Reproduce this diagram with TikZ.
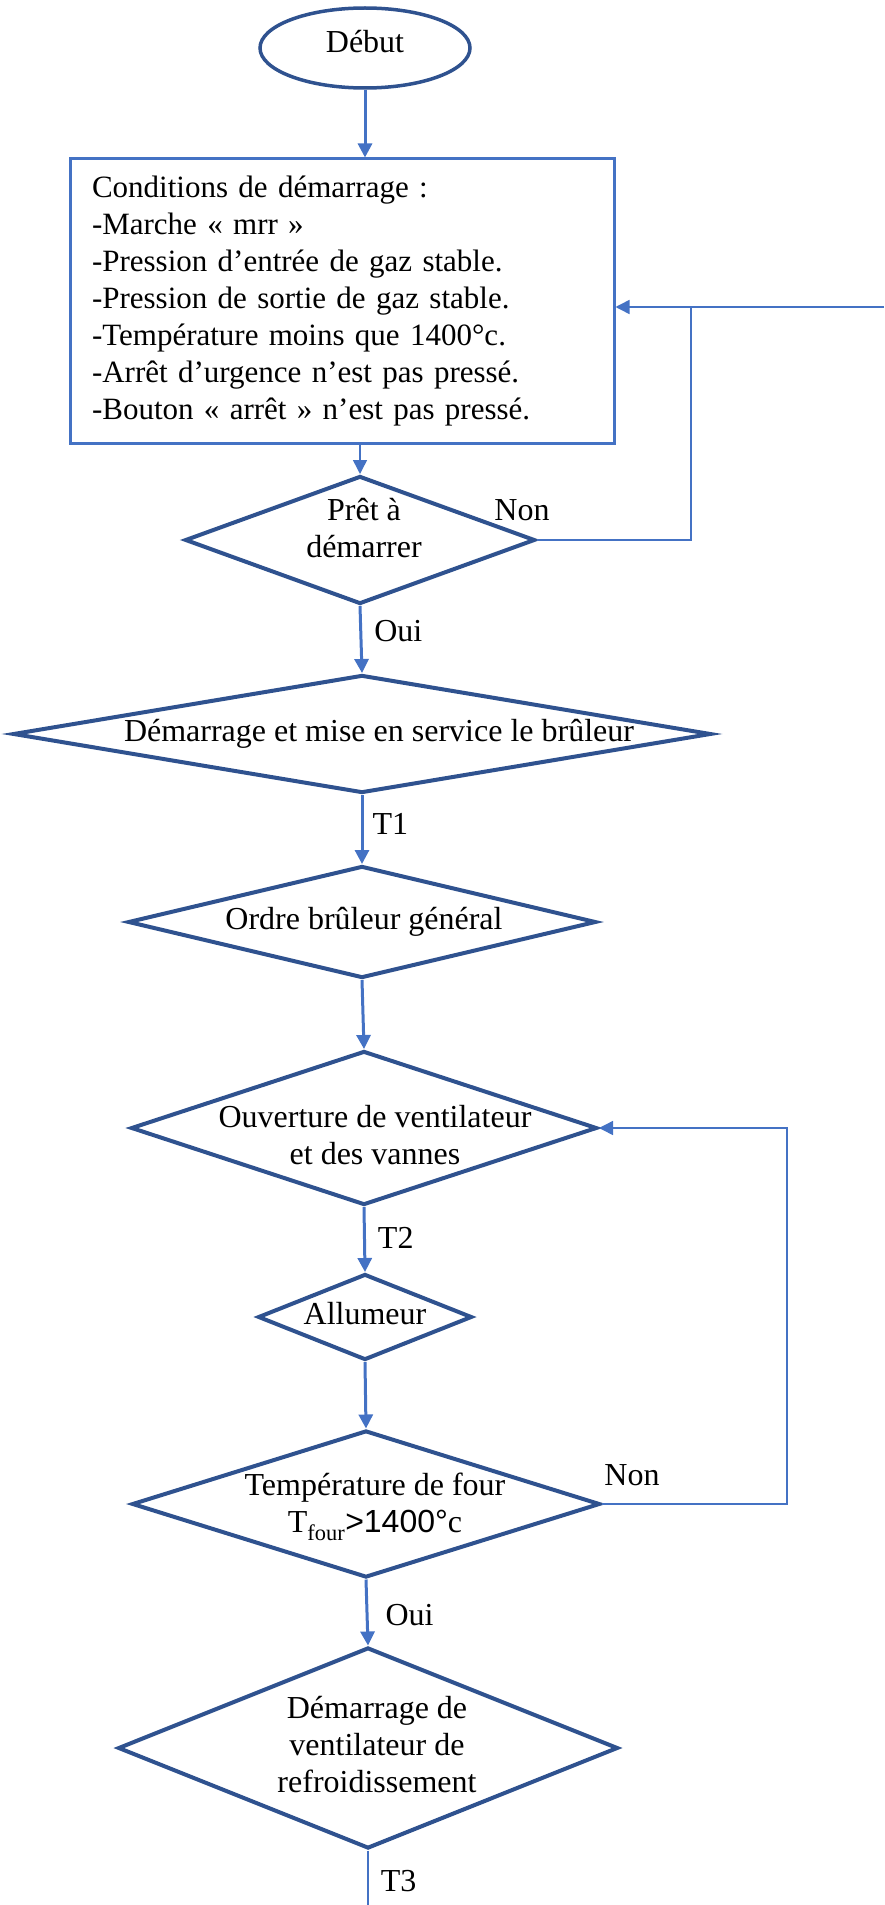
\documentclass[tikz,border=0pt]{standalone}
\usepackage{fontspec}
\setmainfont{Liberation Serif}
\newfontfamily\arialfont{Liberation Sans}
\usepackage{tikz}
\usetikzlibrary{shapes.geometric, arrows.meta, calc}
\definecolor{lineblue}{RGB}{68,114,196}
\definecolor{darkblue}{RGB}{47,82,143}
% text of a decision, shifted but without changing the size of the diamond
\newcommand{\dtext}[3]{\makebox[0pt]{\hspace*{#1}\raisebox{#2}[\height][\depth]{\begin{tabular}{@{}c@{}}#3\end{tabular}}}}

\begin{document}
\begin{tikzpicture}[x=1pt, y=-1pt,
every node/.style={font=\fontsize{32}{37}\selectfont},
startstop/.style={ellipse, draw=darkblue, line width=3.5pt, inner sep=0pt},
condbox/.style={rectangle, draw=lineblue, line width=3pt, text width=500pt, inner xsep=22pt, align=left, font=\fontsize{31}{37}\selectfont},
decision/.style={diamond, draw=darkblue, line width=4pt, inner sep=0pt},
flow/.style={draw=lineblue, line width=3pt, -{Triangle[length=14pt,width=14pt]}},
thinflow/.style={draw=lineblue, line width=1.5pt, -{Triangle[length=14pt,width=14pt]}},
thinline/.style={draw=lineblue, line width=1.5pt},
lbl/.style={right, inner sep=0pt, xshift=12pt}
]
\useasboundingbox (0,0) rectangle (884,1905);

\node[startstop, minimum width=210pt, minimum height=80pt] (debut) at (365,48) {\raisebox{6pt}[\height][\depth]{Début}};
\node[condbox, minimum height=284pt] (cond) at (342,301) {Conditions de démarrage :\\
-Marche « mrr »\\
-Pression d’entrée de gaz stable.\\
-Pression de sortie de gaz stable.\\
-Température moins que 1400°c.\\
-Arrêt d’urgence n’est pas pressé.\\
-Bouton « arrêt » n’est pas pressé.};

\node[decision, minimum width=350pt, minimum height=128pt] (pret) at (360,540) {\dtext{8pt}{8pt}{Prêt à\\démarrer}};
\node[decision, minimum width=698pt, minimum height=118pt] (demar) at (362,734) {\dtext{34pt}{0pt}{Démarrage et mise en service le brûleur}};
\node[decision, minimum width=468pt, minimum height=112pt] (ordre) at (362,922) {\dtext{4pt}{0pt}{Ordre brûleur général}};
\node[decision, minimum width=466pt, minimum height=154pt] (ouvert) at (364,1128) {\dtext{22pt}{-11pt}{Ouverture de ventilateur\\et des vannes}};
\node[decision, minimum width=214pt, minimum height=86pt] (allum) at (365,1317) {\dtext{0pt}{0pt}{Allumeur}};
\node[decision, minimum width=468pt, minimum height=147pt] (temp) at (366,1504) {\dtext{18pt}{-3pt}{Température de four\\T\textsubscript{four}{\arialfont >1400°}c}};
\node[decision, minimum width=500pt, minimum height=201pt] (refroid) at (368,1748) {\dtext{18pt}{0pt}{Démarrage de\\ventilateur de\\refroidissement}};

\coordinate (bord) at (884,307);
\coordinate (coin1) at (691,307);
\coordinate (coin2) at (787,1128);
\coordinate (fin) at (368,1905);

% main flow
\draw[flow] (debut.south) -- (debut.south |- cond.north);
\draw[thinflow] (pret.north |- cond.south) -- (pret.north);
\draw[flow] (pret.south) -- node[lbl, pos=.38] {Oui} (demar.north);
\draw[flow] (demar.south) -- node[lbl, pos=.42, xshift=-3pt] {T1} (ordre.north);
\draw[flow] (ordre.south) -- (ouvert.north);
\draw[flow] (ouvert.south) -- node[lbl, pos=.47] {T2} (allum.north);
\draw[flow] (allum.south) -- (temp.north);
\draw[flow] (temp.south) -- node[lbl, pos=.54, xshift=5pt] {Oui} (refroid.north);
\draw[thinline] (refroid.south) -- node[lbl, pos=.56] {T3} (fin);

% loops back
\draw[thinflow] (bord) -- ([yshift=-6pt]cond.east);
\draw[thinline] (pret.east) -| (coin1);
\node (non1) at ([xshift=-15pt, yshift=30pt]pret.east) {Non};
\draw[thinflow] (temp.east) -| (coin2) -- (ouvert.east);
\node (non2) at ([xshift=30pt, yshift=29pt]temp.east) {Non};
\end{tikzpicture}
\end{document}
